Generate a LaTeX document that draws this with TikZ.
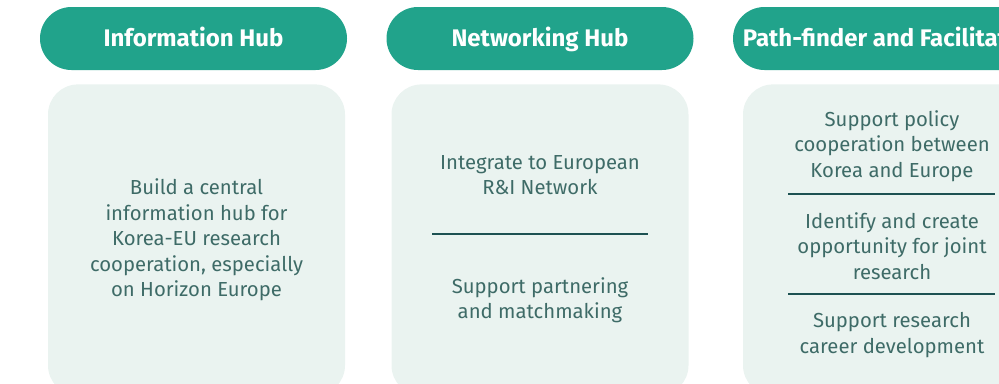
\documentclass[tikz,border=0pt]{standalone}
\usepackage{fontspec}
\setmainfont{Fira Sans}
\usetikzlibrary{positioning}
\definecolor{hubgreen}{HTML}{21A38B}
\definecolor{cardbg}{HTML}{EAF3F0}
\definecolor{cardtext}{HTML}{3E6B67}
\definecolor{rulecol}{HTML}{1D5152}
\tikzset{hub/.style={rectangle, rounded corners=31.5pt, fill=hubgreen, text=white, minimum width=307pt, minimum height=63pt, text height=20pt, text depth=5pt, font=\fontsize{24}{26}\selectfont\bfseries},
    card/.style={rectangle, rounded corners=30pt, fill=cardbg, minimum width=297pt, minimum height=311pt, anchor=north},
    txt/.style={align=center, text=cardtext, font=\fontsize{20.3}{25.5}\selectfont},
    sep/.style={draw=rulecol, line width=2pt}}

\begin{document}
\begin{tikzpicture}[x=1pt, y=-1pt]
    \useasboundingbox (0,0) rectangle (999,383);
    \clip (0,0) rectangle (999,383);
    \node[hub] (info) at (193.5,38.5) {Information Hub};
    \node[hub] (net) at (540,38.5) {Networking Hub};
    \node[hub] (path) at (886.5,38.5) {Path-finder and Facilitator};
    \node[card, txt, below=14pt of info, xshift=3pt] (infocard) {Build a central\\information hub for\\Korea-EU research\\cooperation, especially\\on Horizon Europe};
    \node[card, below=14pt of net] (netcard) {};
    \node[card, below=14pt of path, xshift=5pt] (pathcard) {};
    \node[txt] (integrate) at (540,175) {Integrate to European\\R\&I Network};
    \node[txt] (partner) at (540,300) {Support partnering\\and matchmaking};
    \node[txt] (policy) at (892,146) {Support policy\\cooperation between\\Korea and Europe};
    \node[txt] (joint) at (892,246) {Identify and create\\opportunity for joint\\research};
    \node[txt] (career) at (892,335) {Support research\\career development};
    \draw[sep] (432,234) -- (648,234);
    \draw[sep] (788,194) -- (995,194);
    \draw[sep] (788,294) -- (995,294);
\end{tikzpicture}
\end{document}
